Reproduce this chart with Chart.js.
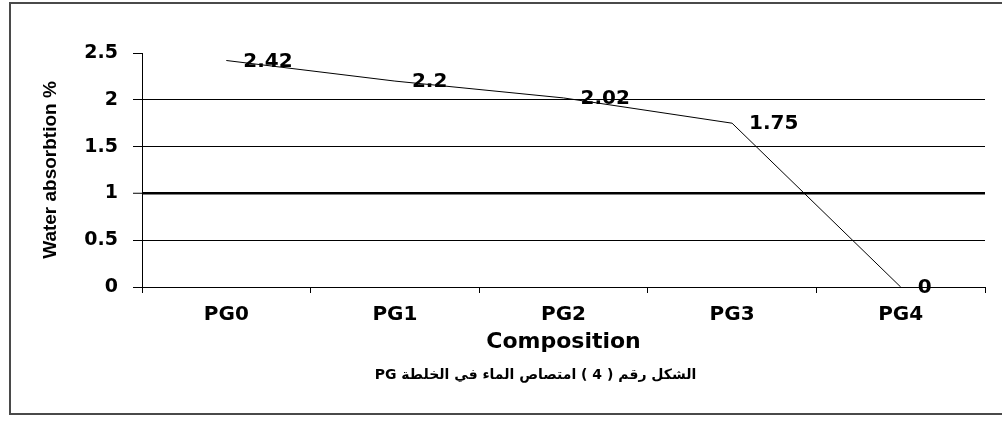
<!DOCTYPE html>
<html>
<head>
<meta charset="utf-8">
<title>Water absorption PG</title>
<script src="https://cdn.jsdelivr.net/npm/chart.js@4/dist/chart.umd.min.js"></script>
<style>
    html, body { margin: 0; padding: 0; background: #fff; overflow: hidden; }
    #wrap { position: relative; width: 1002px; height: 421px; }
    #frame {
        position: absolute; left: 9px; top: 2px; width: 1010px; height: 413px;
        border: 2px solid #4a4a4a; box-sizing: border-box;
    }
    canvas { position: absolute; left: 0; top: 0; }
</style>
</head>
<body>
<div id="wrap">
    <div id="frame"></div>
    <canvas id="lineChart" width="1002" height="421"></canvas>
</div>
<script>
const categories = ['PG0', 'PG1', 'PG2', 'PG3', 'PG4'];
const absorption = [2.42, 2.2, 2.02, 1.75, 0];
const yTickValues = [0, 0.5, 1, 1.5, 2, 2.5];

const yTitle = 'Water absorbtion %';
const xTitle = 'Composition';
const caption = 'الشكل رقم ( 4 ) امتصاص الماء في الخلطة PG';

// writes the value next to each point, like the excel labels
const valueLabels = {
    id: 'valueLabels',
    afterDatasetsDraw(chart) {
        const ctx = chart.ctx;
        const meta = chart.getDatasetMeta(0);
        ctx.save();
        ctx.font = 'bold 20px "DejaVu Sans"';
        ctx.fillStyle = '#000';
        ctx.textAlign = 'left';
        ctx.textBaseline = 'middle';
        meta.data.forEach((pt, i) => {
            ctx.fillText(String(absorption[i]), pt.x + 17, pt.y + 1);
        });
        ctx.restore();
    }
};

// figure caption under the axis title, arabic so right-to-left
const figureCaption = {
    id: 'figureCaption',
    afterDraw(chart) {
        const ctx = chart.ctx;
        const area = chart.chartArea;
        ctx.save();
        ctx.font = 'bold 14px "DejaVu Sans"';
        ctx.fillStyle = '#000';
        ctx.direction = 'rtl';
        ctx.textAlign = 'center';
        ctx.textBaseline = 'middle';
        ctx.fillText(caption, (area.left + area.right) / 2 - 28, area.bottom + 88);
        ctx.restore();
    }
};

const ctx = document.getElementById('lineChart').getContext('2d');
new Chart(ctx, {
    type: 'line',
    data: {
        labels: categories,
        datasets: [{
            label: 'Water absorption',
            data: absorption,
            borderColor: '#000',
            borderWidth: 1,
            pointRadius: 0,
            tension: 0,
            fill: false
        }]
    },
    options: {
        responsive: false,
        animation: false,
        devicePixelRatio: 1,
        layout: {
            padding: { left: 0, top: 53, right: 17, bottom: 64 }
        },
        plugins: {
            legend: { display: false },
            tooltip: { enabled: false }
        },
        scales: {
            x: {
                offset: true,
                afterFit: (scale) => { scale.height = 70; },
                border: { display: true, color: '#000', width: 1 },
                grid: {
                    offset: true,
                    drawOnChartArea: false,
                    color: '#000',
                    tickLength: 6
                },
                ticks: {
                    color: '#000',
                    padding: 10,
                    maxRotation: 0,
                    font: { family: '"DejaVu Sans"', size: 20, weight: 'bold' }
                },
                title: {
                    display: true,
                    text: xTitle,
                    color: '#000',
                    font: { family: '"DejaVu Sans"', size: 22, weight: 'bold' },
                    padding: { top: 0, bottom: 2 }
                }
            },
            y: {
                min: 0,
                max: 2.5,
                afterFit: (scale) => { scale.width = 142; },
                afterBuildTicks: (scale) => {
                    scale.ticks = yTickValues.map(v => ({ value: v }));
                },
                border: { display: true, color: '#000', width: 1 },
                grid: {
                    color: (c) => c.tick && c.tick.value === 2.5 ? 'rgba(0,0,0,0)' : '#000',
                    tickColor: '#000',
                    lineWidth: (c) => c.tick && c.tick.value === 1 ? 2.5 : 1,
                    tickWidth: 1,
                    tickLength: 9
                },
                ticks: {
                    color: '#000',
                    padding: 15,
                    font: { family: '"DejaVu Sans"', size: 19, weight: 'bold' },
                    callback: (value) => String(value)
                },
                title: {
                    display: true,
                    text: yTitle,
                    color: '#000',
                    font: { family: '"Liberation Sans"', size: 19, weight: 'bold' },
                    padding: { top: 39, bottom: 0 }
                }
            }
        }
    },
    plugins: [valueLabels, figureCaption]
});
</script>
</body>
</html>
